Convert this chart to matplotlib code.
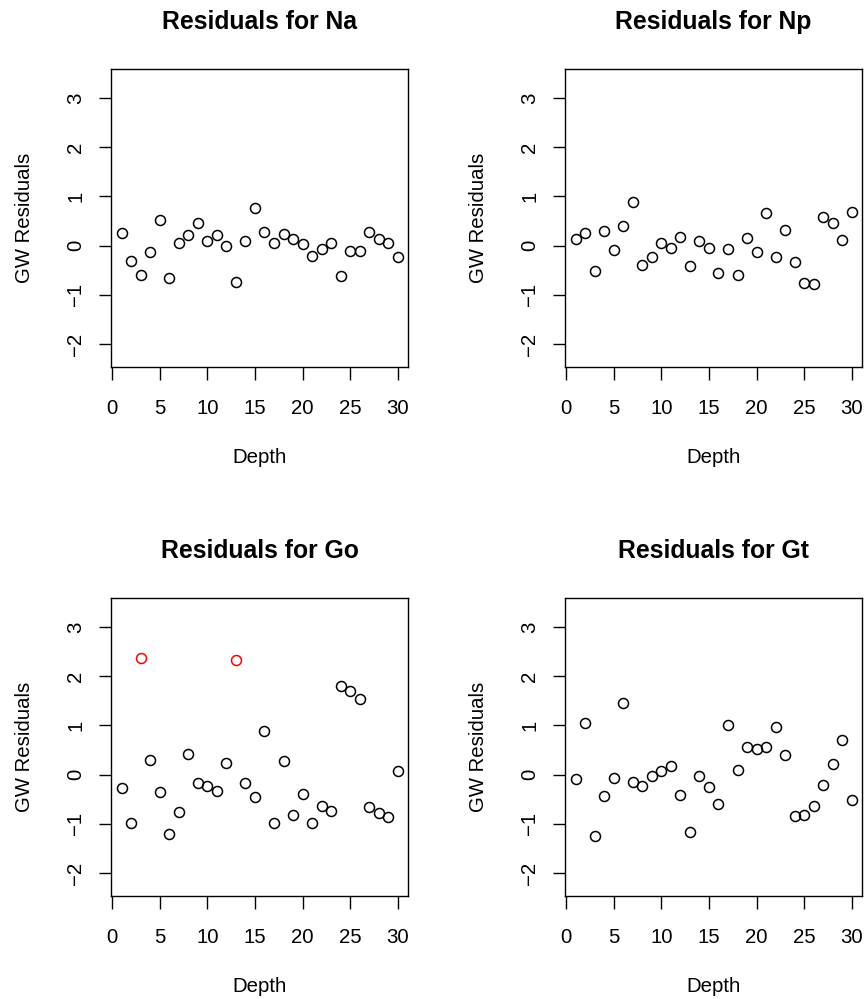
import matplotlib

matplotlib.use("Agg")
import matplotlib.pyplot as plt
import numpy as np

plt.rcParams["font.family"] = ["Liberation Sans", "DejaVu Sans"]

# GW residuals by sample depth for each parameter
depth = np.arange(1, 31)

resid_na = [0.26, -0.32, -0.59, -0.14, 0.52, -0.65, 0.05, 0.22, 0.46, 0.09,
            0.22, 0.00, -0.74, 0.10, 0.77, 0.27, 0.05, 0.24, 0.13, 0.04,
            -0.22, -0.07, 0.05, -0.62, -0.11, -0.11, 0.28, 0.14, 0.05, -0.23]
resid_np = [0.13, 0.26, -0.51, 0.29, -0.08, 0.40, 0.88, -0.39, -0.24, 0.06,
            -0.04, 0.18, -0.41, 0.09, -0.05, -0.55, -0.07, -0.59, 0.16, -0.14,
            0.66, -0.24, 0.32, -0.33, -0.77, -0.78, 0.59, 0.45, 0.11, 0.69]
resid_go = [-0.27, -0.99, 2.36, 0.30, -0.36, -1.20, -0.75, 0.41, -0.18, -0.24,
            -0.34, 0.24, 2.32, -0.17, -0.45, 0.88, -0.98, 0.27, -0.82, -0.39,
            -0.99, -0.64, -0.74, 1.80, 1.70, 1.54, -0.66, -0.79, -0.86, 0.07]
resid_gt = [-0.10, 1.05, -1.24, -0.44, -0.07, 1.46, -0.16, -0.23, -0.03, 0.08,
            0.18, -0.41, -1.16, -0.03, -0.26, -0.59, 1.00, 0.09, 0.55, 0.51,
            0.57, 0.97, 0.39, -0.84, -0.82, -0.64, -0.22, 0.22, 0.70, -0.51]

names = ["Na", "Np", "Go", "Gt"]
residuals = [resid_na, resid_np, resid_go, resid_gt]
# depths flagged as outliers (drawn in red)
flagged = {"Go": [3, 13]}

xticks = [0, 5, 10, 15, 20, 25, 30]
yticks = [-2, -1, 0, 1, 2, 3]
ytick_labels = ["\u22122", "\u22121", "0", "1", "2", "3"]

W, H = 865, 999
fig = plt.figure(figsize=(W / 100, H / 100), dpi=100)

box_w, box_h = 297.6, 297.4
lefts = [110.7, 564.7]
tops = [69.3, 598.3]

for i, (name, res) in enumerate(zip(names, residuals)):
    left = lefts[i % 2]
    top = tops[i // 2]
    ax = fig.add_axes([left / W, (H - top - box_h) / H, box_w / W, box_h / H])

    res = np.asarray(res)
    bad = np.isin(depth, flagged.get(name, []))
    ax.plot(depth[~bad], res[~bad], "o", ls="none", ms=7.2, mfc="none",
            mec="black", mew=1.1)
    if bad.any():
        ax.plot(depth[bad], res[bad], "o", ls="none", ms=7.2, mfc="none",
                mec="red", mew=1.1)

    ax.set_xlim(-0.17, 31.12)
    ax.set_ylim(-2.46, 3.58)

    for sp in ax.spines.values():
        sp.set_linewidth(1.0)
        sp.set_color("black")

    ax.set_xticks(xticks)
    ax.set_xticklabels([str(t) for t in xticks])
    ax.set_yticks(yticks)
    ax.set_yticklabels(ytick_labels, rotation=90, ha="center", va="center")
    ax.tick_params(axis="both", length=9, width=1.0, labelsize=14.7,
                   direction="out", color="black")
    ax.tick_params(axis="x", pad=14)
    ax.tick_params(axis="y", pad=16.3)

    ax.set_title(f"Residuals for {name}", fontsize=17.8, fontweight="bold",
                 y=1 + 47 / box_h, va="center", pad=0)
    ax.set_xlabel("Depth", fontsize=14.7, va="center")
    ax.xaxis.set_label_coords(0.5, -91 / box_h)
    ax.set_ylabel("GW Residuals", fontsize=14.7, va="center")
    ax.yaxis.set_label_coords(-86 / box_w, 0.5)

fig.savefig("out.png", dpi=100)
